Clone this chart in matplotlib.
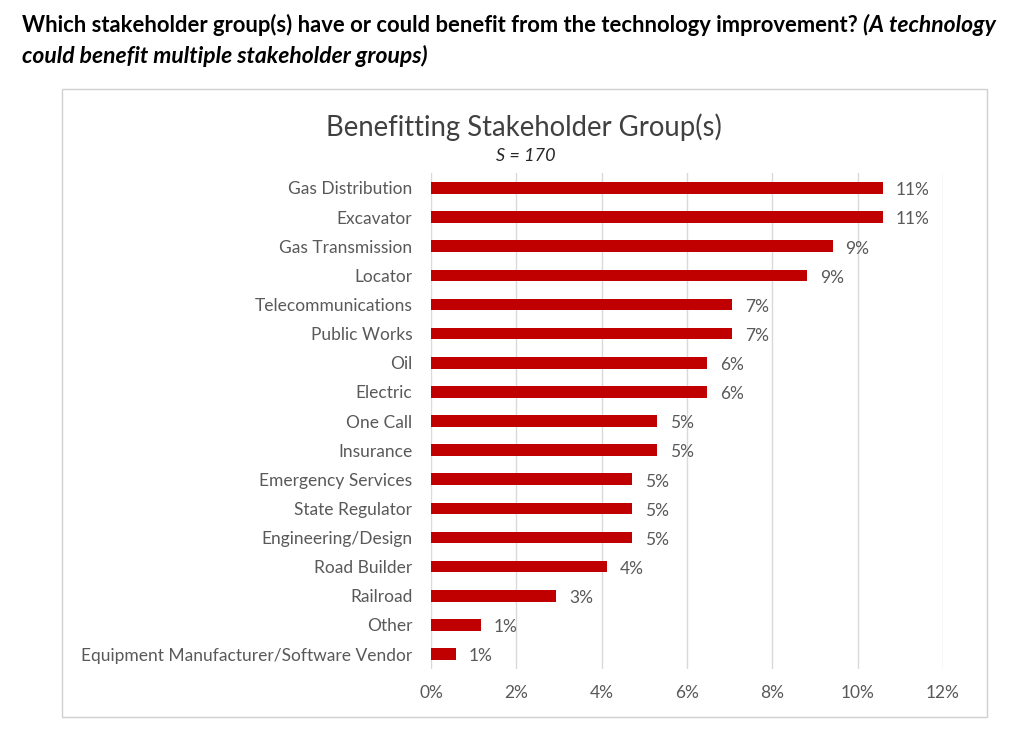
import matplotlib.pyplot as plt
from matplotlib.patches import Rectangle

# --- Veri ---
groups = ["Gas Distribution", "Excavator", "Gas Transmission", "Locator",
          "Telecommunications", "Public Works", "Oil", "Electric", "One Call",
          "Insurance", "Emergency Services", "State Regulator", "Engineering/Design",
          "Road Builder", "Railroad", "Other", "Equipment Manufacturer/Software Vendor"]
counts = [18, 18, 16, 15, 12, 12, 11, 11, 9, 9, 8, 8, 8, 7, 5, 2, 1]
total = 170
pct = [c / total * 100 for c in counts]
xticks = [0, 2, 4, 6, 8, 10, 12]

plt.rcParams['font.family'] = ['Lato', 'DejaVu Sans']
grey = '#595959'

fig = plt.figure(figsize=(10.24, 7.29), dpi=100)

# --- Üst başlık ---
t1 = fig.text(22 / 1024, 1 - 25 / 729,
              "Which stakeholder group(s) have or could benefit from the technology improvement? ",
              fontsize=15.8, fontweight='bold', va='center', ha='left')
fig.canvas.draw()
bb = t1.get_window_extent()
fig.text(bb.x1 / 1024, 1 - 25 / 729, "(A technology", fontsize=16.5, fontweight='bold',
         style='italic', va='center', ha='left')
fig.text(22 / 1024, 1 - 56 / 729, "could benefit multiple stakeholder groups)", fontsize=16.5,
         fontweight='bold', style='italic', va='center', ha='left')

# --- Grafik çerçevesi ---
fig.patches.append(Rectangle((62 / 1024, 1 - 717 / 729), 925 / 1024, 628 / 729,
                             transform=fig.transFigure, fill=False, edgecolor='#D0D0D0', lw=1))
fig.text(524 / 1024, 1 - 127 / 729, "Benefitting Stakeholder Group(s)", fontsize=19.8,
         color='#404040', ha='center', va='center')
fig.text(526 / 1024, 1 - 156 / 729, f"S = {total}", fontsize=13, style='italic',
         color='#262626', ha='center', va='center')

ax = fig.add_axes([431 / 1024, 1 - 668.6 / 729, 512 / 1024, 495.2 / 729])
y = list(range(len(groups)))
ax.barh(y, pct, height=0.4, color='#C00000', zorder=3)
for yi, p in zip(y, pct):
    ax.text(p + 0.3, yi + 0.08, f"{p:.0f}%", va='center', ha='left', fontsize=12.5, color=grey)

ax.set_ylim(len(groups) - 0.5, -0.5)
ax.set_xlim(0, 12)
ax.set_xticks(xticks)
ax.set_xticklabels([f"{t}%" for t in xticks])
ax.set_yticks(y)
ax.set_yticklabels(groups)
ax.tick_params(axis='both', length=0, labelsize=12.5, labelcolor=grey)
ax.tick_params(axis='y', pad=13.5)
ax.tick_params(axis='x', pad=12)
ax.grid(axis='x', color='#D9D9D9', lw=1, zorder=0)
for s in ax.spines.values():
    s.set_visible(False)

fig.savefig("out.png", dpi=100)
